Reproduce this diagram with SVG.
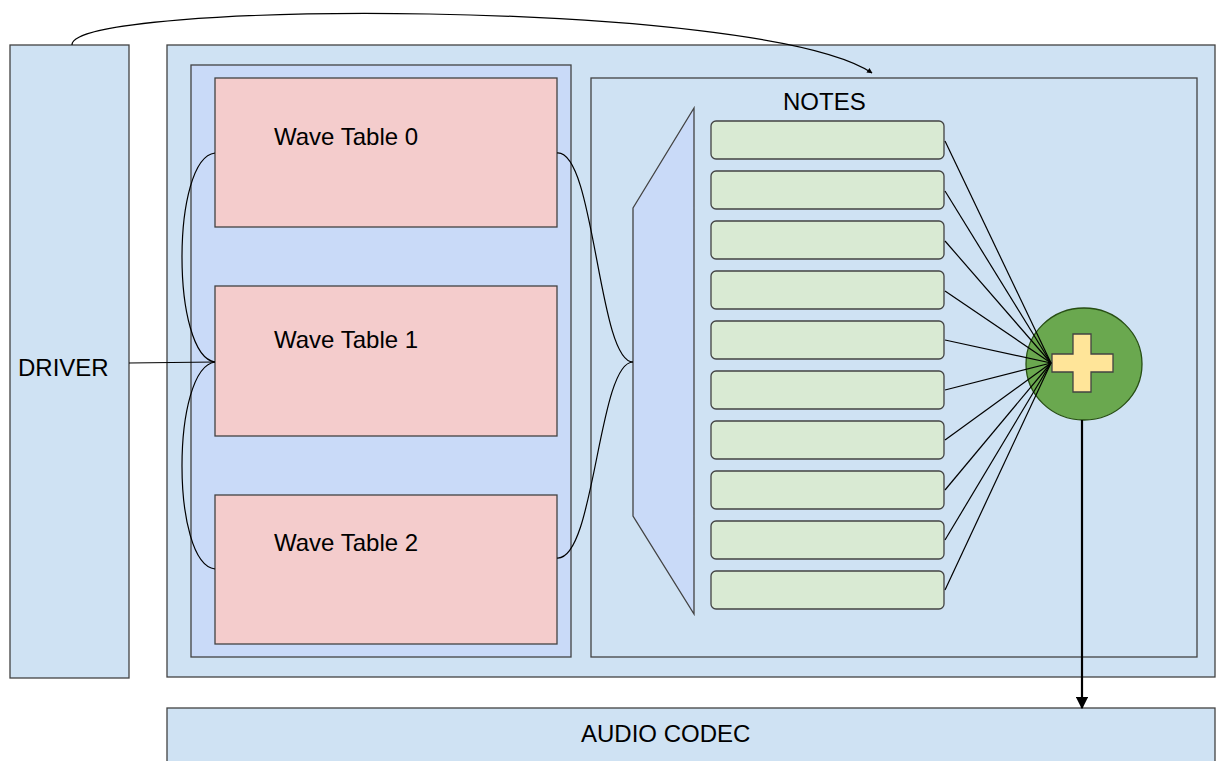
<svg xmlns="http://www.w3.org/2000/svg" width="1216" height="761" viewBox="0 0 1216 761">
<defs>
<style>
.box{stroke:#434343;stroke-width:1.3}
.lb{fill:#cfe2f3}
.mb{fill:#c9daf8}
.wt{fill:#f4cccc}
.note{fill:#d9ead3;stroke:#434343;stroke-width:1.3}
.t{font-family:"Liberation Sans",Arial,sans-serif;font-size:24px;fill:#000}
.c{fill:none;stroke:#000;stroke-width:1.2}
</style>
<marker id="ah" viewBox="0 0 10 10" refX="9" refY="5" markerWidth="5.5" markerHeight="5.5" orient="auto" markerUnits="strokeWidth">
<path d="M0,0 L10,5 L0,10 z" fill="#000"/>
</marker>
<marker id="ah2" viewBox="0 0 10 10" refX="9" refY="5" markerWidth="4.5" markerHeight="4.5" orient="auto" markerUnits="strokeWidth">
<path d="M0,0 L10,5 L0,10 z" fill="#000"/>
</marker>
</defs>
<rect width="1216" height="761" fill="#fff"/>
<g id="driver">
<rect class="box lb" x="10" y="45" width="119" height="633"/>
<text class="t" x="18" y="376">DRIVER</text>
</g>
<g id="synth">
<rect class="box lb" x="167" y="45" width="1048" height="632"/>
</g>
<g id="wavetables">
<rect class="box mb" x="191" y="65" width="380" height="592"/>
</g>
<g id="wt0">
<rect class="box wt" x="215" y="78" width="342" height="149"/>
<text class="t" x="274" y="145">Wave Table 0</text>
</g>
<g id="wt1">
<rect class="box wt" x="215" y="286" width="342" height="150"/>
<text class="t" x="274" y="348">Wave Table 1</text>
</g>
<g id="wt2">
<rect class="box wt" x="215" y="495" width="342" height="149"/>
<text class="t" x="274" y="551">Wave Table 2</text>
</g>
<g id="notes">
<rect class="box lb" x="591" y="78" width="606" height="579"/>
<text class="t" x="783" y="110">NOTES</text>
</g>
<g id="mux">
<polygon class="box mb" points="633,208 694,108 694,614 633,516"/>
</g>
<g id="note-rows">
<rect class="note" x="711" y="121" width="233" height="38" rx="5"/>
<rect class="note" x="711" y="171" width="233" height="38" rx="5"/>
<rect class="note" x="711" y="221" width="233" height="38" rx="5"/>
<rect class="note" x="711" y="271" width="233" height="38" rx="5"/>
<rect class="note" x="711" y="321" width="233" height="38" rx="5"/>
<rect class="note" x="711" y="371" width="233" height="38" rx="5"/>
<rect class="note" x="711" y="421" width="233" height="38" rx="5"/>
<rect class="note" x="711" y="471" width="233" height="38" rx="5"/>
<rect class="note" x="711" y="521" width="233" height="38" rx="5"/>
<rect class="note" x="711" y="571" width="233" height="38" rx="5"/>
</g>
<g id="mixer">
<ellipse cx="1084" cy="364" rx="58" ry="56" fill="#6aa84f" stroke="#274e13" stroke-width="1.3"/>
<path d="M1073,334 H1091 V354 H1113 V372 H1091 V392 H1073 V372 H1052 V354 H1073 Z" fill="#ffe599" stroke="#434343" stroke-width="1.3"/>
</g>
<g id="codec">
<rect class="box lb" x="167" y="708" width="1048" height="60"/>
<text class="t" x="581" y="742">AUDIO CODEC</text>
</g>
<g id="connectors">
<path class="c" d="M72,45 C70,0 760,-2 872,73" marker-end="url(#ah2)"/>
<path class="c" d="M129,363 L215,362"/>
<path class="c" d="M215,153 C171,158 171,356 215,362"/>
<path class="c" d="M215,569 C171,564 171,368 215,362"/>
<path class="c" d="M557,153 C595,150 598,362 633,362"/>
<path class="c" d="M557,558 C595,561 598,362 633,362"/>
<g class="fan">
<path class="c" d="M945,141 L1051,363"/>
<path class="c" d="M945,191 L1051,363"/>
<path class="c" d="M945,241 L1051,363"/>
<path class="c" d="M945,291 L1051,363"/>
<path class="c" d="M945,340 L1051,363"/>
<path class="c" d="M945,390 L1051,363"/>
<path class="c" d="M945,440 L1051,363"/>
<path class="c" d="M945,490 L1051,363"/>
<path class="c" d="M945,540 L1051,363"/>
<path class="c" d="M945,590 L1051,363"/>
</g>
<path d="M1082,420 L1082,708" fill="none" stroke="#000" stroke-width="2.2" marker-end="url(#ah)"/>
</g>
</svg>
